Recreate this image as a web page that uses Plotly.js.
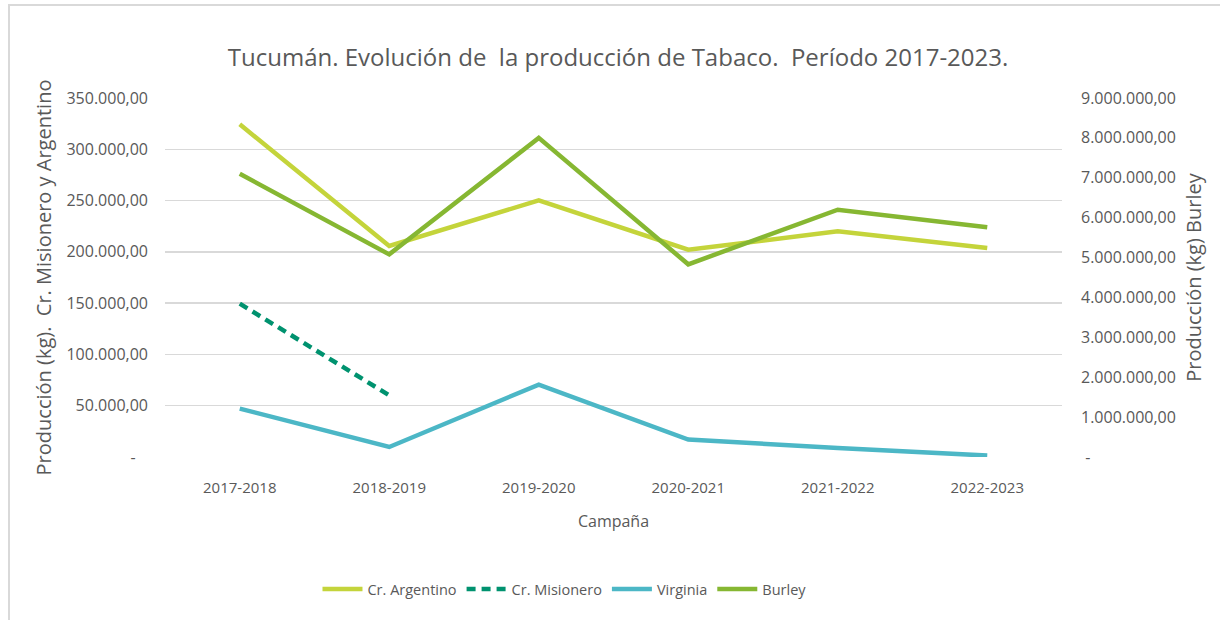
<!DOCTYPE html>
<html>
<head>
<meta charset="utf-8">
<script src="https://cdn.plot.ly/plotly-3.0.1.min.js"></script>
<style>
  html, body { margin: 0; padding: 0; background: #ffffff; }
  #chart { width: 1220px; height: 620px; position: absolute; left: 0; top: 0; }
  #frame { position: absolute; left: 8px; top: 4px; width: 1212px; height: 616px;
           border-left: 2px solid #d9d9d9; border-top: 2px solid #d9d9d9; box-sizing: border-box; pointer-events: none; }
</style>
</head>
<body>
<div id="chart"></div>
<div id="frame"></div>
<script>
const campaigns = ["2017-2018", "2018-2019", "2019-2020", "2020-2021", "2021-2022", "2022-2023"];
const crArgentino = [324300, 205700, 250200, 202100, 220000, 203700];
const crMisionero = [149500, 60100, null, null, null, null];
const virginia = [47200, 9750, 70600, 17000, 8800, 1400];
const burley = [7100000, 5080000, 8000000, 4830000, 6200000, 5760000];

const leftTickVals = [0, 50000, 100000, 150000, 200000, 250000, 300000, 350000];
const leftTickText = ["-\u00a0\u00a0\u00a0", "50.000,00", "100.000,00", "150.000,00", "200.000,00", "250.000,00", "300.000,00", "350.000,00"];
const rightTickVals = [0, 1000000, 2000000, 3000000, 4000000, 5000000, 6000000, 7000000, 8000000, 9000000];
const rightTickText = ["\u00a0-", "1.000.000,00", "2.000.000,00", "3.000.000,00", "4.000.000,00", "5.000.000,00", "6.000.000,00", "7.000.000,00", "8.000.000,00", "9.000.000,00"];

const font = "'Open Sans', 'Noto Sans', sans-serif";
const txt = "#595959";

const traces = [
  { x: campaigns, y: crArgentino, name: "Cr. Argentino", type: "scatter", mode: "lines",
    line: { color: "#c4d43b", width: 4.5 }, yaxis: "y" },
  { x: campaigns, y: crMisionero, name: "Cr. Misionero", type: "scatter", mode: "lines",
    line: { color: "#00926f", width: 4.5, dash: "9px,6px" }, yaxis: "y" },
  { x: campaigns, y: virginia, name: "Virginia", type: "scatter", mode: "lines",
    line: { color: "#4cb7c6", width: 4.5 }, yaxis: "y" },
  { x: campaigns, y: burley, name: "Burley", type: "scatter", mode: "lines",
    line: { color: "#86b732", width: 4.5 }, yaxis: "y2" }
];

const layout = {
  width: 1220, height: 620,
  margin: { l: 165, r: 158, t: 97.5, b: 163.3 },
  paper_bgcolor: "#ffffff", plot_bgcolor: "#ffffff",
  showlegend: true,
  title: { text: "Tucumán. Evolución de  la producción de Tabaco.  Período 2017-2023.",
           font: { family: font, size: 24, color: txt },
           x: 0.5066, xref: "container", xanchor: "center",
           y: 1 - 58 / 620, yref: "container", yanchor: "middle" },
  xaxis: {
    type: "category",
    range: [-0.5, 5.5],
    showgrid: false, zeroline: false, showline: false,
    ticks: "", ticklabelstandoff: 20,
    tickfont: { family: font, size: 15, color: txt },
    title: { text: "Campaña", font: { family: font, size: 16, color: txt }, standoff: 19 }
  },
  yaxis: {
    range: [0, 350000],
    tickvals: leftTickVals, ticktext: leftTickText,
    showgrid: true, gridcolor: "#d9d9d9", gridwidth: 1.5,
    zeroline: false, showline: false, ticks: "", ticklabelstandoff: 16,
    tickfont: { family: font, size: 16, color: txt },
    title: { text: "Producción (kg).  Cr. Misionero y Argentino", font: { family: font, size: 20, color: txt }, standoff: 9 }
  },
  yaxis2: {
    range: [0, 9000000], overlaying: "y", side: "right",
    tickvals: rightTickVals, ticktext: rightTickText,
    showgrid: false, zeroline: false, showline: false, ticks: "", ticklabelstandoff: 18,
    tickfont: { family: font, size: 16, color: txt },
    title: { text: "Producción (kg) Burley", font: { family: font, size: 20, color: txt }, standoff: 12 }
  },
  legend: {
    orientation: "h", x: 0.17, xanchor: "left", y: -0.368, yanchor: "middle",
    font: { family: font, size: 14.5, color: txt },
    bgcolor: "rgba(0,0,0,0)", itemwidth: 40, tracegroupgap: 0
  }
};

Plotly.newPlot("chart", traces, layout, { displayModeBar: false, staticPlot: true });
</script>
</body>
</html>
